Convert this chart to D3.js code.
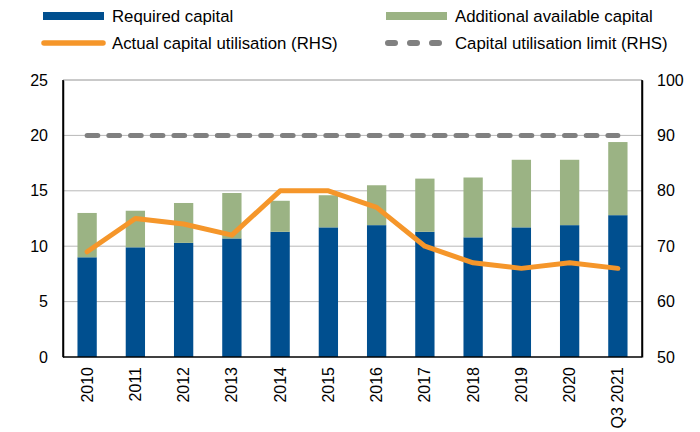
<!DOCTYPE html>
<html>
<head>
<meta charset="utf-8">
<script src="https://cdn.jsdelivr.net/npm/d3@7"></script>
<style>
body{margin:0;background:#fff;}
text{font-family:Arial,"Liberation Sans",sans-serif;}
</style>
</head>
<body>
<svg id="chart" width="700" height="432"></svg>
<script>
const categories = ["2010","2011","2012","2013","2014","2015","2016","2017","2018","2019","2020","Q3 2021"];
const requiredCapital = [9.0, 9.9, 10.3, 10.7, 11.3, 11.7, 11.9, 11.3, 10.8, 11.7, 11.9, 12.8];
const totalCapital = [13.0, 13.2, 13.9, 14.8, 14.1, 14.6, 15.5, 16.1, 16.2, 17.8, 17.8, 19.4];
const additionalCapital = totalCapital.map((t, i) => +(t - requiredCapital[i]).toFixed(2));
const utilisation = [69, 75, 74, 72, 80, 80, 77, 70, 67, 66, 67, 66];
const utilisationLimit = [90, 90, 90, 90, 90, 90, 90, 90, 90, 90, 90, 90];
const leftTicks = [0, 5, 10, 15, 20, 25];
const rightTicks = [50, 60, 70, 80, 90, 100];

const colors = {req:"#004F8F", add:"#9BB384", util:"#F5962A", limit:"#808080"};
const m = {l:63, r:642, t:80, b:357};
const svg = d3.select("#chart");

const x = d3.scaleBand().domain(categories).range([m.l, m.r]).paddingInner(0.6).paddingOuter(0.3);
const yL = d3.scaleLinear().domain([0, 25]).range([m.b, m.t]);
const yR = d3.scaleLinear().domain([50, 100]).range([m.b, m.t]);
const xc = d => x(d) + x.bandwidth()/2;

// gridlines
svg.append("g").selectAll("line").data(leftTicks.slice(1)).join("line")
  .attr("x1", m.l).attr("x2", m.r).attr("y1", d => yL(d)).attr("y2", d => yL(d))
  .attr("stroke", "#b8b8b8").attr("stroke-width", 1);

// stacked bars
const stack = d3.stack().keys(["req","add"])(categories.map((c,i)=>({cat:c, req:requiredCapital[i], add:additionalCapital[i]})));
svg.append("g").selectAll("g").data(stack).join("g")
  .attr("fill", d => colors[d.key])
  .selectAll("rect").data(d => d).join("rect")
  .attr("x", d => x(d.data.cat)).attr("width", x.bandwidth())
  .attr("y", d => yL(d[1])).attr("height", d => yL(d[0]) - yL(d[1]));

// limit line
const line = d3.line().x((d,i) => xc(categories[i])).y(d => yR(d));
svg.append("path").datum(utilisationLimit).attr("d", line)
  .attr("fill","none").attr("stroke", colors.limit).attr("stroke-width", 5)
  .attr("stroke-linecap","round").attr("stroke-dasharray","10.7 11");

// utilisation line
svg.append("path").datum(utilisation).attr("d", line)
  .attr("fill","none").attr("stroke", colors.util).attr("stroke-width", 5)
  .attr("stroke-linejoin","round").attr("stroke-linecap","round");

// axes
const axL = svg.append("g").attr("transform", `translate(${m.l},0)`)
  .call(d3.axisLeft(yL).tickValues(leftTicks).tickSize(0).tickPadding(15));
const axR = svg.append("g").attr("transform", `translate(${m.r},0)`)
  .call(d3.axisRight(yR).tickValues(rightTicks).tickSize(0).tickPadding(15));
const axB = svg.append("g").attr("transform", `translate(0,${m.b})`)
  .call(d3.axisBottom(x).tickSize(0).tickPadding(0));
[axL, axR, axB].forEach(a => {
  a.select(".domain").attr("stroke", "#000").attr("stroke-width", 1.5);
  a.selectAll("text").attr("font-size", 16).attr("fill", "#000").attr("font-family","Arial, 'Liberation Sans', sans-serif");
});
axB.select(".domain").attr("d", `M${m.l},0H${m.r}`);
axB.selectAll(".tick text")
  .attr("transform", "rotate(-90)")
  .attr("text-anchor", "end")
  .attr("x", -10).attr("y", 0).attr("dy", "0.35em");
// top border
svg.append("line").attr("x1", m.l).attr("x2", m.r).attr("y1", m.t).attr("y2", m.t)
  .attr("stroke", "#b8b8b8").attr("stroke-width", 1);
// axis lines on top
svg.append("line").attr("x1", m.l).attr("x2", m.l).attr("y1", m.t).attr("y2", m.b).attr("stroke","#000").attr("stroke-width",1.5);
svg.append("line").attr("x1", m.r).attr("x2", m.r).attr("y1", m.t).attr("y2", m.b).attr("stroke","#000").attr("stroke-width",1.5);

// legend
const legend = [
  {label:"Required capital", x:43, y:16, type:"bar", color:colors.req},
  {label:"Additional available capital", x:386, y:16, type:"bar", color:colors.add},
  {label:"Actual capital utilisation (RHS)", x:43, y:43, type:"line", color:colors.util},
  {label:"Capital utilisation limit (RHS)", x:386, y:43, type:"dash", color:colors.limit}
];
const lg = svg.append("g").selectAll("g").data(legend).join("g")
  .attr("transform", d => `translate(${d.x},${d.y})`);
lg.filter(d => d.type === "bar").append("rect")
  .attr("x", 0).attr("y", -4).attr("width", 61).attr("height", 8).attr("fill", d => d.color);
lg.filter(d => d.type === "line").append("line")
  .attr("x1", 1).attr("x2", 60).attr("y1", 0).attr("y2", 0)
  .attr("stroke", d => d.color).attr("stroke-width", 5.5).attr("stroke-linecap","round");
lg.filter(d => d.type === "dash").append("line")
  .attr("x1", 2).attr("x2", 54).attr("y1", 0).attr("y2", 0)
  .attr("stroke", d => d.color).attr("stroke-width", 6).attr("stroke-linecap","round")
  .attr("stroke-dasharray","7 15");
lg.append("text").attr("x", 69).attr("y", 0).attr("dy","0.35em")
  .attr("font-size", 16.8).attr("fill","#000").text(d => d.label);
</script>
</body>
</html>
